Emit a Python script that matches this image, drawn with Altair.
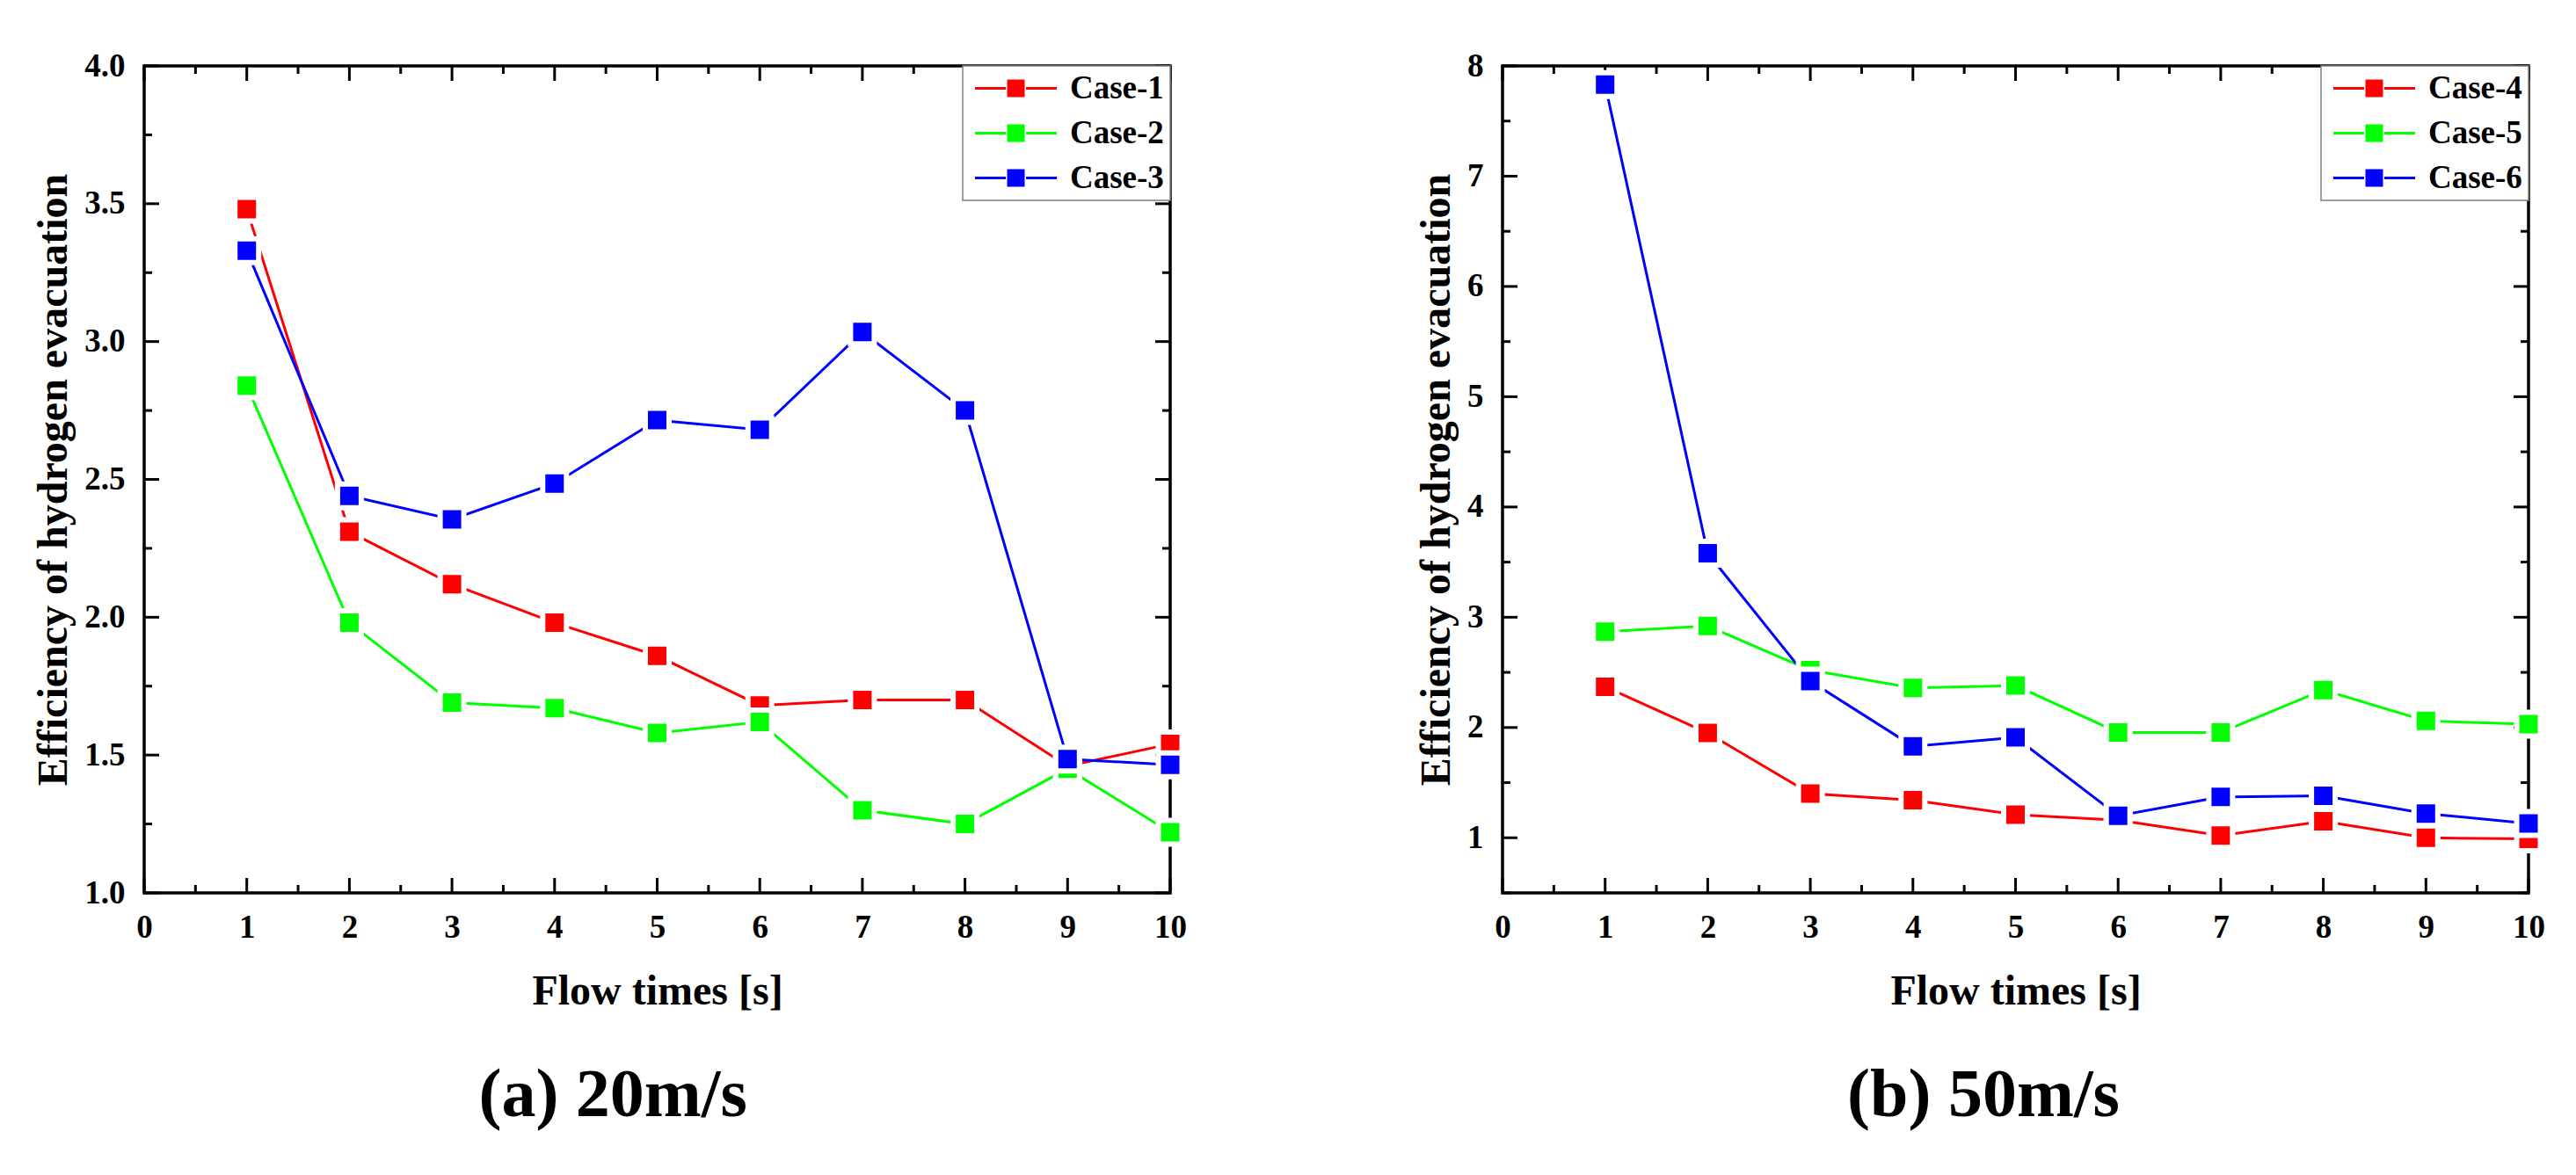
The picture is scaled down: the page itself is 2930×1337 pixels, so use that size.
import altair as alt
import pandas as pd

# ---------------- data ----------------
flow_times = [1, 2, 3, 4, 5, 6, 7, 8, 9, 10]

names_a = ["Case-1", "Case-2", "Case-3"]
case1 = [3.48, 2.31, 2.12, 1.98, 1.86, 1.68, 1.70, 1.70, 1.46, 1.54]
case2 = [2.84, 1.98, 1.69, 1.67, 1.58, 1.62, 1.30, 1.25, 1.45, 1.22]
case3 = [3.33, 2.44, 2.355, 2.485, 2.715, 2.68, 3.035, 2.75, 1.485, 1.465]

names_b = ["Case-4", "Case-5", "Case-6"]
case4 = [2.37, 1.95, 1.40, 1.34, 1.21, 1.16, 1.02, 1.15, 1.00, 0.99]
case5 = [2.87, 2.92, 2.52, 2.36, 2.38, 1.955, 1.955, 2.34, 2.06, 2.03]
case6 = [7.83, 3.58, 2.42, 1.83, 1.91, 1.20, 1.37, 1.38, 1.22, 1.13]

x_major = [0, 1, 2, 3, 4, 5, 6, 7, 8, 9, 10]
x_minor = [0.5, 1.5, 2.5, 3.5, 4.5, 5.5, 6.5, 7.5, 8.5, 9.5]
ya_major = [1.0, 1.5, 2.0, 2.5, 3.0, 3.5, 4.0]
ya_minor = [1.25, 1.75, 2.25, 2.75, 3.25, 3.75]
yb_major = [1, 2, 3, 4, 5, 6, 7, 8]
yb_minor = [0.5, 1.5, 2.5, 3.5, 4.5, 5.5, 6.5, 7.5]

colors = ["#FF0000", "#00FF00", "#0000FF"]

# ---------------- style ----------------
FONT = "Liberation Serif"
W, H = 1167, 941
MAJ, MIN = 17, 9

# legend symbol: line - square - line (square drawn as dense strokes)
hatch = "".join(f"M2.5,{v}H4.5" for v in [-0.85, -0.55, -0.25, 0.05, 0.35, 0.65, 0.85])
LEG_PATH = "M-1.15,0H2.35M4.65,0H8.15" + hatch


def long_df(names, series):
    rows = []
    for n, s in zip(names, series):
        for t, v in zip(flow_times, s):
            rows.append({"t": t, "v": v, "case": n})
    return pd.DataFrame(rows)


def ticks(vals, side, length, xs, ys, xa, ya):
    d = pd.DataFrame({"p": vals})
    c = alt.Chart(d).mark_rule(color="black", strokeWidth=3)
    if side == "left":
        return c.encode(y=alt.Y("p:Q", scale=ys, axis=ya), x=alt.value(0), x2=alt.value(length))
    if side == "right":
        return c.encode(y=alt.Y("p:Q", scale=ys, axis=ya), x=alt.value(W), x2=alt.value(W - length))
    if side == "top":
        return c.encode(x=alt.X("p:Q", scale=xs, axis=xa), y=alt.value(0), y2=alt.value(length))
    return c.encode(x=alt.X("p:Q", scale=xs, axis=xa), y=alt.value(H), y2=alt.value(H - length))


def panel(names, series, ydom, ymaj, ymin, yfmt, title):
    df = long_df(names, series)
    xs = alt.Scale(domain=[0, 10], nice=False, zero=False)
    ys = alt.Scale(domain=ydom, nice=False, zero=False)
    cs = alt.Scale(domain=names, range=colors)

    x_axis = alt.Axis(values=x_major, format="d", domain=False, ticks=False, grid=False,
                      labelFont=FONT, labelFontSize=37, labelFontWeight="bold", labelColor="black",
                      labelPadding=21, labelFlush=False, labelOverlap=False,
                      title="Flow times [s]", titleFont=FONT, titleFontSize=48,
                      titleFontWeight="bold", titleColor="black", titlePadding=31)
    y_axis = alt.Axis(values=ymaj, format=yfmt, domain=False, ticks=False, grid=False,
                      labelFont=FONT, labelFontSize=37, labelFontWeight="bold", labelColor="black",
                      labelPadding=22, labelFlush=False, labelOverlap=False,
                      title="Efficiency of hydrogen evacuation", titleFont=FONT, titleFontSize=48,
                      titleFontWeight="bold", titleColor="black", titlePadding=10)
    legend = alt.Legend(title=None, orient="top-right", offset=0, symbolType=LEG_PATH,
                        symbolSize=400, symbolStrokeWidth=3, labelFont=FONT, labelFontSize=37,
                        labelFontWeight="bold", labelColor="black", labelOffset=78,
                        padding=7, rowPadding=13, strokeColor="#808080", fillColor="white")

    lines = alt.Chart(df).mark_line(strokeWidth=3).encode(
        x=alt.X("t:Q", scale=xs, axis=x_axis),
        y=alt.Y("v:Q", scale=ys, axis=y_axis),
        color=alt.Color("case:N", scale=cs, legend=legend),
    )
    pts = alt.Chart(df).mark_point(shape="square", filled=True, size=729, opacity=1,
                                   stroke="white", strokeWidth=6).encode(
        x=alt.X("t:Q", scale=xs, axis=x_axis),
        y=alt.Y("v:Q", scale=ys, axis=y_axis),
        color=alt.Color("case:N", scale=cs, legend=None),
    )
    tk = []
    for vals, side, ln in [(x_major, "bottom", MAJ), (x_minor, "bottom", MIN),
                           (x_major, "top", MAJ), (x_minor, "top", MIN),
                           (ymaj, "left", MAJ), (ymin, "left", MIN),
                           (ymaj, "right", MAJ), (ymin, "right", MIN)]:
        tk.append(ticks(vals, side, ln, xs, ys, x_axis, y_axis))
    return alt.layer(lines, *tk, pts).properties(
        width=W, height=H,
        title=alt.TitleParams(text=title, orient="bottom", anchor="middle", frame="bounds",
                              fontSize=78, font=FONT, fontWeight="bold", color="black", offset=56),
    )


left = panel(names_a, [case1, case2, case3], [1, 4], ya_major, ya_minor, ".1f", "(a) 20m/s")
right = panel(names_b, [case4, case5, case6], [0.5, 8], yb_major, yb_minor, "d", "(b) 50m/s")

chart = alt.hconcat(left, right, spacing=378, bounds="flush").resolve_scale(
    color="independent").resolve_legend(color="independent").properties(
    padding={"left": 28, "top": 46, "right": 0, "bottom": 0}
).configure(background="white").configure_view(
    stroke="black", strokeWidth=3.5
).configure_legend(strokeWidth=1.5, cornerRadius=0)

chart.save("out.html", embed_options={"renderer": "svg", "actions": False})
